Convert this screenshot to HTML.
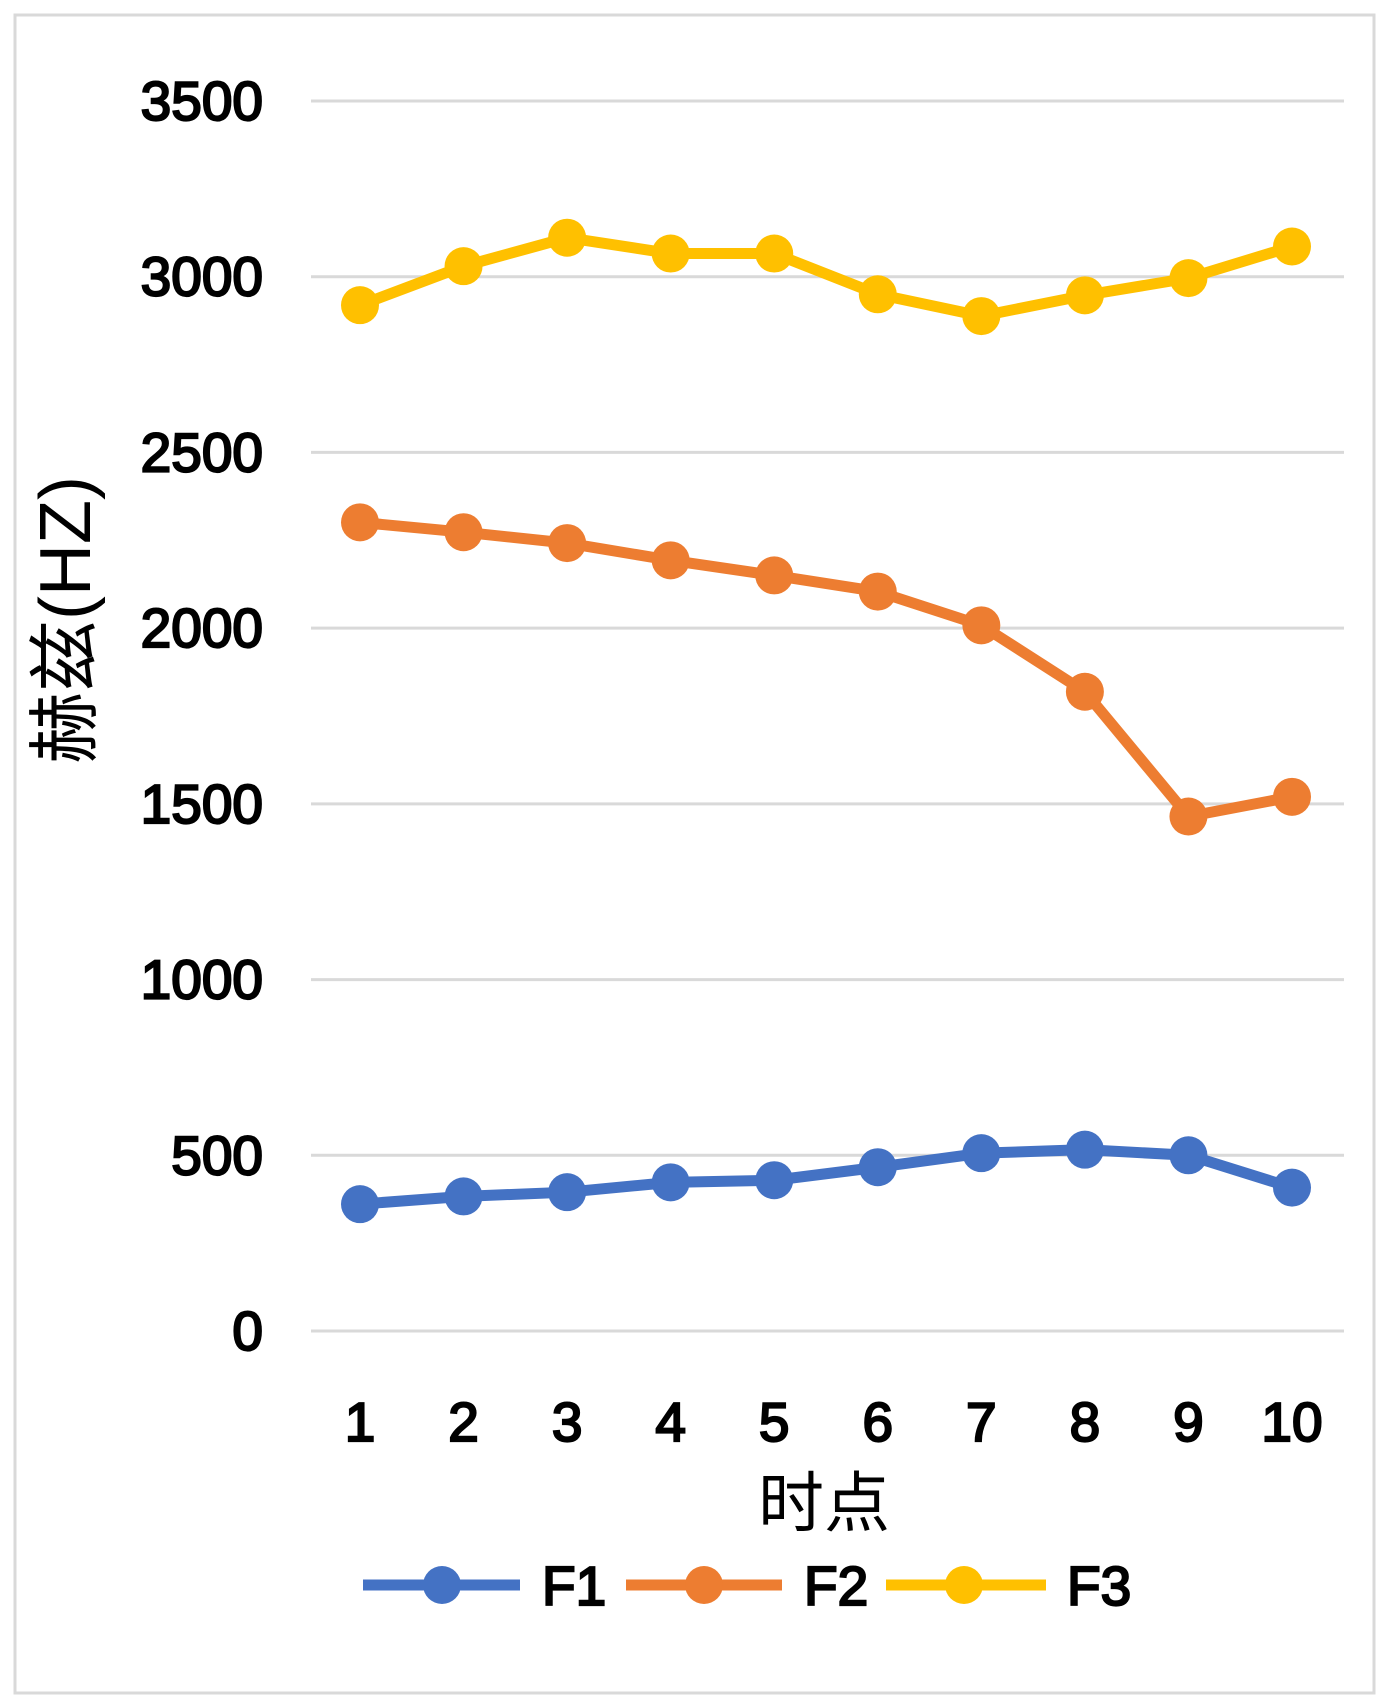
<!DOCTYPE html>
<html><head><meta charset="utf-8"><style>
html,body{margin:0;padding:0;background:#fff;}
svg{display:block;}
text{font-family:"Liberation Sans","Noto Sans CJK SC",sans-serif;fill:#000;}
</style></head><body>
<svg id="chart" width="1387" height="1702" viewBox="0 0 1387 1702">
<rect x="15" y="15" width="1359" height="1678" fill="#fff" stroke="#d9d9d9" stroke-width="3"/>
<g id="grid"></g>
<g id="ylabels"></g>
<g id="xlabels"></g>
<g id="series"></g>
<text x="824" y="1526" font-size="66" text-anchor="middle">时点</text>
<text transform="translate(90,620) rotate(-90)" font-size="72" text-anchor="middle" font-family="Liberation Serif,Noto Serif CJK SC,serif">赫兹(HZ)</text>
<g id="legend"></g>
</svg>
<script>
const categories=['1','2','3','4','5','6','7','8','9','10'];
const yTicks=[0,500,1000,1500,2000,2500,3000,3500];
const f1=[361,383,395,423,429,466,506,516,500,408];
const f2=[2301,2273,2242,2193,2150,2104,2008,1819,1464,1520];
const f3=[2919,3030,3111,3066,3066,2950,2888,2947,2996,3086];
const seriesNames=['F1','F2','F3'];
const colors=['#4472C4','#ED7D31','#FFC000'];
const NS='http://www.w3.org/2000/svg';
const y0=1331,yTop=101,yMax=3500,x1=360,x10=1292;
function ys(v){return y0-(v/yMax)*(y0-yTop);}
function xs(i){return x1+i*(x10-x1)/(categories.length-1);}
function mk(tag,attrs,parent){const e=document.createElementNS(NS,tag);for(const k in attrs)e.setAttribute(k,attrs[k]);parent.appendChild(e);return e;}
const grid=document.getElementById('grid'),yl=document.getElementById('ylabels'),xl=document.getElementById('xlabels'),sg=document.getElementById('series'),lg=document.getElementById('legend');
yTicks.forEach(t=>{
 const l=mk('line',{x1:311,x2:1344,y1:ys(t),y2:ys(t),stroke:'#d9d9d9','stroke-width':3},grid);
 
 
 const tx=mk('text',{x:263,y:ys(t)+19,'font-size':55,'text-anchor':'end',stroke:'#000','stroke-width':2.2},yl);
 tx.textContent=t;
 
 
});
categories.forEach((c,i)=>{
 const tx=mk('text',{x:xs(i),y:1441,'font-size':55,'text-anchor':'middle',stroke:'#000','stroke-width':2.2},xl);
 tx.textContent=c;
 
 
});
[f1,f2,f3].forEach((d,s)=>{
 const g=mk('g',{},sg);
 
 
 const p=mk('polyline',{points:d.map((v,i)=>xs(i)+','+ys(v)).join(' '),fill:'none',stroke:colors[s],'stroke-width':11,'stroke-linejoin':'round'},g);
 
 
 d.forEach((v,i)=>{
  const c=mk('circle',{cx:xs(i),cy:ys(v),r:19,fill:colors[s]},g);
  
  
 });
});
const legX=[[363,520,442,542],[626,782,704,804],[886,1046,964,1067]];
seriesNames.forEach((n,s)=>{
 const g=mk('g',{},lg);
 
 
 mk('line',{x1:legX[s][0],x2:legX[s][1],y1:1585,y2:1585,stroke:colors[s],'stroke-width':11},g);
 mk('circle',{cx:legX[s][2],cy:1585,r:19,fill:colors[s]},g);
 const t=mk('text',{x:legX[s][3],y:1605,'font-size':55,stroke:'#000','stroke-width':2.2},g);
 t.textContent=n;
});
</script>
</body></html>
